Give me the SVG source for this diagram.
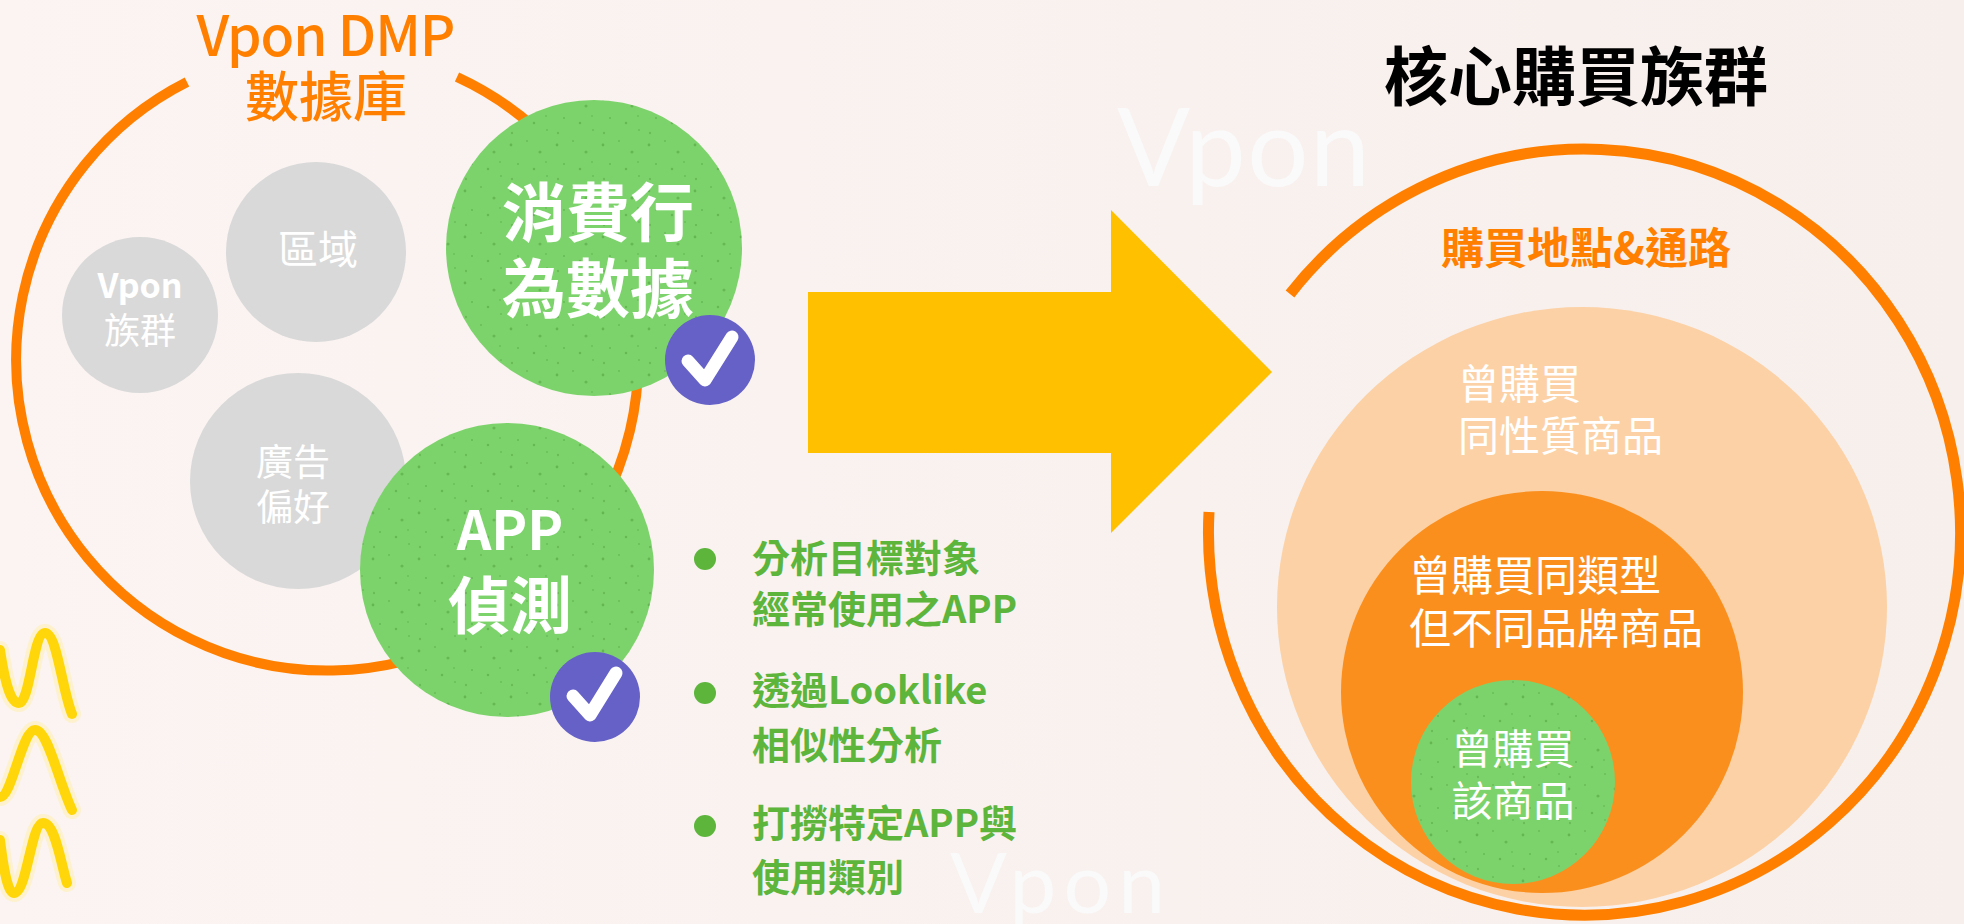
<svg xmlns="http://www.w3.org/2000/svg" width="1964" height="924" viewBox="0 0 1964 924">
  <defs>
    <style>
      .cjk { font-family: "Noto Sans CJK TC", "Noto Sans", "Liberation Sans", sans-serif; }
      .ring { fill: none; stroke: #FF8000; stroke-width: 10; stroke-linecap: butt; }
      .gray { fill: #D9D9D9; }
      .green { fill: #7DD36B; }
      .speck { fill: url(#speckle); }
      .badge { fill: #6561C7; }
      .tick { fill: none; stroke: #FFFFFF; stroke-width: 13; stroke-linecap: round; stroke-linejoin: round; }
      .white-r { fill: #FFFFFF; font-weight: 400; }
      .white-b { fill: #FFFFFF; font-weight: 700; }
      .bullet { fill: #5DB53C; }
      .btext { fill: #5DB53C; font-weight: 700; font-size: 38px; }
      .wave { fill: none; stroke: #FFD60A; stroke-width: 10; stroke-linecap: round; }
      .wave-glow { fill: none; stroke: #FFF0A0; stroke-width: 18; stroke-linecap: round; opacity: 0.45; }
      .mark { fill: #FAFAFA; font-family: Lato, "Open Sans", "Liberation Sans", sans-serif; font-weight: 400; }
    </style>
    <pattern id="speckle" width="46" height="46" patternUnits="userSpaceOnUse">
      <circle cx="5" cy="7" r="1.4" fill="#4E9E3E" opacity="0.55"/>
      <circle cx="21" cy="3" r="1" fill="#4E9E3E" opacity="0.45"/>
      <circle cx="34" cy="14" r="1.6" fill="#4E9E3E" opacity="0.5"/>
      <circle cx="12" cy="26" r="1.1" fill="#4E9E3E" opacity="0.45"/>
      <circle cx="28" cy="31" r="1.3" fill="#4E9E3E" opacity="0.5"/>
      <circle cx="41" cy="38" r="1" fill="#4E9E3E" opacity="0.4"/>
      <circle cx="6" cy="41" r="1.2" fill="#4E9E3E" opacity="0.45"/>
      <circle cx="40" cy="24" r="0.9" fill="#4E9E3E" opacity="0.4"/>
    </pattern>
    <linearGradient id="bg" x1="0" y1="0" x2="1" y2="0">
      <stop offset="0" stop-color="#FBF4F2"/>
      <stop offset="1" stop-color="#F7EFEC"/>
    </linearGradient>
  </defs>

  <!-- backdrop -->
  <rect x="0" y="0" width="1964" height="924" fill="url(#bg)"/>

  <!-- faint brand marks -->
  <g id="watermarks">
    <text class="mark" x="1117" y="186" font-size="108" textLength="253">Vpon</text>
    <text class="mark" x="950" y="913" font-size="84" textLength="215">Vpon</text>
  </g>

  <!-- yellow squiggles -->
  <g id="squiggles">
    <path class="wave-glow" d="M0,650 C6,690 12,703 19,703 C30,703 33,633 45,633 C57,633 62,690 72,714"/>
    <path class="wave-glow" d="M0,797 C12,797 22,730 35,730 C48,730 58,780 72,810"/>
    <path class="wave-glow" d="M0,840 C5,880 9,893 14,893 C27,893 31,823 43,823 C55,823 60,860 67,883"/>
    <path class="wave" d="M0,650 C6,690 12,703 19,703 C30,703 33,633 45,633 C57,633 62,690 72,714"/>
    <path class="wave" d="M0,797 C12,797 22,730 35,730 C48,730 58,780 72,810"/>
    <path class="wave" d="M0,840 C5,880 9,893 14,893 C27,893 31,823 43,823 C55,823 60,860 67,883"/>
  </g>

  <!-- left: DMP database -->
  <g id="dmp">
    <path class="ring" d="M457,77 A311,311 0 1 1 187,82"/>
    <text class="cjk" x="326" y="56" font-size="55" font-weight="500" fill="#FF8000" text-anchor="middle" textLength="259">Vpon DMP</text>
    <text class="cjk" x="326" y="117" font-size="54" font-weight="500" fill="#FF8000" text-anchor="middle">數據庫</text>
  </g>

  <g id="node-vpon-group">
    <circle class="gray" cx="140" cy="315" r="78"/>
    <text class="cjk white-b" x="140" y="298" font-size="34" text-anchor="middle">Vpon</text>
    <text class="cjk white-r" x="140" y="344" font-size="36" text-anchor="middle">族群</text>
  </g>

  <g id="node-region">
    <circle class="gray" cx="316" cy="252" r="90"/>
    <text class="cjk white-r" x="318" y="264" font-size="40" text-anchor="middle">區域</text>
  </g>

  <g id="node-ad-pref">
    <circle class="gray" cx="298" cy="481" r="108"/>
    <text class="cjk white-r" x="293" y="476" font-size="37" text-anchor="middle">廣告</text>
    <text class="cjk white-r" x="293" y="521" font-size="37" text-anchor="middle">偏好</text>
  </g>

  <g id="node-spending">
    <circle class="green" cx="594" cy="248" r="148"/>
    <circle class="speck" cx="594" cy="248" r="148"/>
    <text class="cjk white-b" x="598" y="236" font-size="64" text-anchor="middle">消費行</text>
    <text class="cjk white-b" x="598" y="312" font-size="64" text-anchor="middle">為數據</text>
    <circle class="badge" cx="710" cy="360" r="45"/>
    <path class="tick" d="M688,361 L705,380 L732,337"/>
  </g>

  <g id="node-app">
    <circle class="green" cx="507" cy="570" r="147"/>
    <circle class="speck" cx="507" cy="570" r="147"/>
    <text class="cjk white-b" x="510" y="550" font-size="54" text-anchor="middle">APP</text>
    <text class="cjk white-b" x="510" y="629" font-size="62" text-anchor="middle">偵測</text>
    <circle class="badge" cx="595" cy="697" r="45"/>
    <path class="tick" d="M573,696 L590,715 L616,673"/>
  </g>

  <g id="notes">
    <circle class="bullet" cx="705" cy="559" r="11"/>
    <text class="cjk btext" x="752" y="572">分析目標對象</text>
    <text class="cjk btext" x="752" y="623">經常使用之APP</text>
    <circle class="bullet" cx="705" cy="693" r="11"/>
    <text class="cjk btext" x="752" y="704">透過Looklike</text>
    <text class="cjk btext" x="752" y="759">相似性分析</text>
    <circle class="bullet" cx="705" cy="826" r="11"/>
    <text class="cjk btext" x="752" y="837">打撈特定APP與</text>
    <text class="cjk btext" x="752" y="891">使用類別</text>
  </g>

  <!-- flow arrow -->
  <g id="connectors">
    <polygon points="808,292 1111,292 1111,210 1272,372 1111,533 1111,453 808,453" fill="#FFC000"/>
  </g>

  <!-- right: core buyers -->
  <g id="core-title">
    <text class="cjk" x="1576" y="100" font-size="64" font-weight="700" fill="#000000" text-anchor="middle">核心購買族群</text>
  </g>

  <g id="node-channel">
    <path class="ring" style="stroke-width:11" d="M1290,294 A376,383 0 1 1 1209,512"/>
    <text class="cjk" x="1586" y="264" font-size="43" font-weight="700" fill="#FF8000" text-anchor="middle">購買地點&amp;通路</text>
  </g>

  <g id="node-similar">
    <ellipse cx="1582" cy="607" rx="305" ry="300" fill="#FCD1A5"/>
    <text class="cjk white-r" x="1458" y="399" font-size="41">曾購買</text>
    <text class="cjk white-r" x="1458" y="451" font-size="41">同性質商品</text>
  </g>

  <g id="node-category">
    <circle cx="1542" cy="692" r="201" fill="#FA8F1E"/>
    <text class="cjk white-r" x="1409" y="591" font-size="42">曾購買同類型</text>
    <text class="cjk white-r" x="1409" y="644" font-size="42">但不同品牌商品</text>
  </g>

  <g id="node-product">
    <circle class="green" cx="1513" cy="782" r="102"/>
    <circle class="speck" cx="1513" cy="782" r="102"/>
    <text class="cjk white-r" x="1513" y="764" font-size="41" text-anchor="middle">曾購買</text>
    <text class="cjk white-r" x="1513" y="816" font-size="41" text-anchor="middle">該商品</text>
  </g>
</svg>
